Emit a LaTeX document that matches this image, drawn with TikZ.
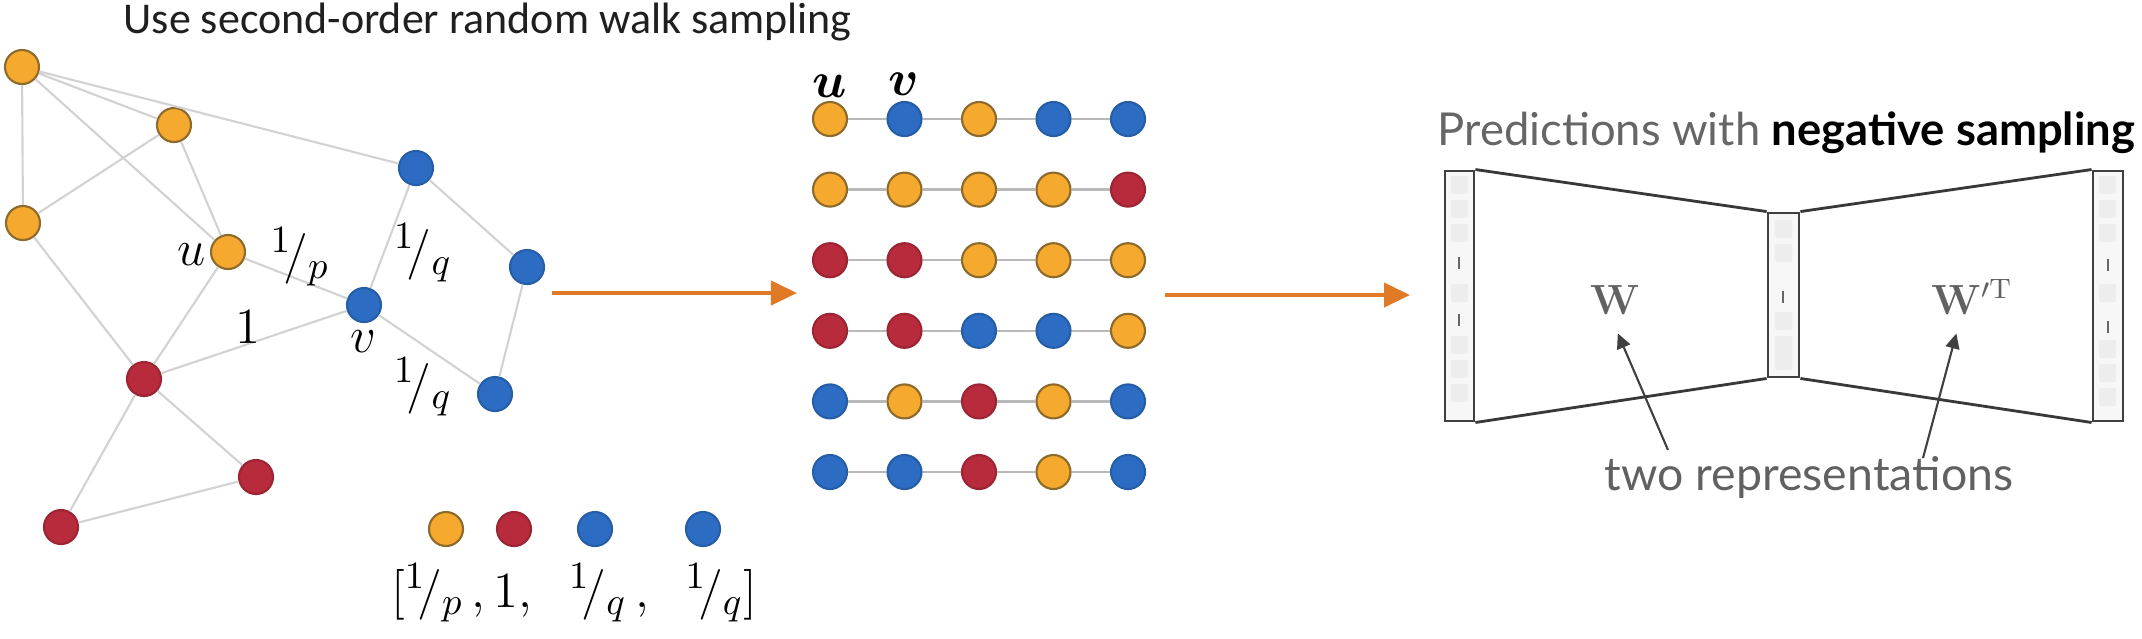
\documentclass[tikz,border=0pt]{standalone}
\usepackage{amsmath,amssymb}
\usepackage[no-math]{fontspec}
\setmainfont{Carlito}
\newfontfamily\latofont{Lato}
\usepackage{tikz}
\usetikzlibrary{arrows.meta,calc}
\definecolor{walkyellow}{HTML}{F5A92E}
\definecolor{walkrim}{HTML}{8C6A2C}
\definecolor{walkblue}{HTML}{2C6DC3}
\definecolor{walkred}{HTML}{B72B3D}
\definecolor{floworange}{HTML}{E07A26}
\newcommand{\onefrac}[1]{{}^{1}\!/_{#1}}

\begin{document}
\begin{tikzpicture}[
  x=0.01cm, y=-0.01cm,
  vertex/.style={circle,minimum size=3.4mm,inner sep=0pt,line width=0.6pt},
  wy/.style={vertex,fill=walkyellow,draw=walkrim},
  wb/.style={vertex,fill=walkblue,draw=walkblue!85!black},
  wr/.style={vertex,fill=walkred,draw=walkred!85!black},
  edge/.style={draw=gray!35,line width=0.6pt},
  walkedge/.style={draw=gray!55,line width=0.7pt},
  wlabel/.style={font=\fontsize{15.5}{18}\selectfont,inner sep=0pt},
  flow/.style={-{Triangle[length=2.6mm,width=2.4mm]},draw=floworange,line width=1.2pt},
  layer/.style={draw=black!75,fill=gray!6,line width=0.8pt,minimum width=2.9mm,inner sep=0pt},
  cell/.style={fill=gray!14,rounded corners=0.6pt},
  pointer/.style={-{Triangle[length=1.5mm,width=1.4mm]},draw=black!75,line width=0.6pt},
  wire/.style={draw=black!78,line width=0.8pt}
]
\useasboundingbox (0,0) rectangle (2142,638);

\node[anchor=base west,font=\fontsize{12.5}{15}\selectfont,text=black!88,inner sep=0pt]
  (ttl) at (123,33) {Use second-order random walk sampling};

% graph
\node[wy] (y1) at (22,67) {};
\node[wy] (y2) at (174,125) {};
\node[wy] (y3) at (23,223) {};
\node[wy] (u)  at (228,252) {};
\node[wb] (b1) at (416,168) {};
\node[wb] (b2) at (527,267) {};
\node[wb] (v)  at (364,305) {};
\node[wb] (b3) at (495,394) {};
\node[wr] (r1) at (144,379) {};
\node[wr] (r2) at (256,477) {};
\node[wr] (r3) at (61,527) {};

\draw[edge] (y1)--(y2) (y1)--(b1) (y1)--(y3) (y1)--(u) (y2)--(y3) (y2)--(u)
  (y3)--(r1) (u)--(v) (u)--(r1) (r1)--(v) (v)--(b1) (v)--(b3)
  (b1)--(b2) (b2)--(b3) (r1)--(r2) (r1)--(r3) (r2)--(r3);

\node[wlabel] (lu)  at (192,255) {$u$};
\node[wlabel] (lv)  at (363,342) {$v$};
\node[wlabel] (lp)  at (300,257) {$\onefrac{p}$};
\node[wlabel] (lq1) at (423,253) {$\onefrac{q}$};
\node[wlabel] (l1)  at (248,327) {$1$};
\node[wlabel] (lq2) at (423,387) {$\onefrac{q}$};

% transition weights
\node[wy] (ky)  at (446,529) {};
\node[wr] (kr)  at (514,529) {};
\node[wb] (kb1) at (595,529) {};
\node[wb] (kb2) at (703,529) {};
\node[wlabel] (kt) at (574,593)
  {$[\onefrac{p}\,,1,\;\;\onefrac{q}\,,\;\;\onefrac{q}]$};

% sampled walks
\foreach \cl [count=\i] in {{wy,wb,wy,wb,wb},{wy,wy,wy,wy,wr},{wr,wr,wy,wy,wy},
                            {wr,wr,wb,wb,wy},{wb,wy,wr,wy,wb},{wb,wb,wr,wy,wb}}
  \foreach \c [count=\j] in \cl
    \node[\c] (g\i-\j) at ({830+74.5*(\j-1)},{119+70.6*(\i-1)}) {};
\foreach \i in {1,...,6}
  \draw[walkedge] (g\i-1) -- (g\i-2) (g\i-2) -- (g\i-3) (g\i-3) -- (g\i-4) (g\i-4) -- (g\i-5);
\node[wlabel,font=\fontsize{14}{16}\selectfont] (gu) at (830,86) {$\boldsymbol{u}$};
\node[wlabel,font=\fontsize{14}{16}\selectfont] (gv) at (904,84) {$\boldsymbol{v}$};

\coordinate (f1s) at (552,293);
\coordinate (f1e) at (797,293);
\coordinate (f2s) at (1165,295);
\coordinate (f2e) at (1410,295);
\draw[flow] (f1s) -- (f1e);
\draw[flow] (f2s) -- (f2e);

% skip-gram
\node[anchor=base west,font=\latofont\fontsize{12.9}{15}\selectfont,inner sep=0pt,text=black!60]
  (ptl) at (1437,145) {Predictions with \textbf{\color{black}negative sampling}};

\node[layer,minimum height=2.5cm] (inl) at (1459.5,296) {};
\node[layer,minimum height=1.64cm,minimum width=3.1mm] (hid) at (1783.5,295) {};
\node[layer,minimum height=2.5cm,minimum width=3mm] (outl) at (2108,296) {};
\draw[wire] (inl.north east) -- (hid.north west);
\draw[wire] (inl.south east) -- (hid.south west);
\draw[wire] (hid.north east) -- (outl.north west);
\draw[wire] (hid.south east) -- (outl.south west);

\foreach \yy in {176,200,224,284,336,360,384} \fill[cell] (1451,\yy) rectangle +(17,18);
\foreach \yy in {220,244,312,336,352} \fill[cell] (1775,\yy) rectangle +(17,18);
\foreach \yy in {176,200,224,284,340,364,388} \fill[cell] (2099,\yy) rectangle +(17,18);
\foreach \yy in {263,320} \draw[black!60,line width=0.5pt] (1459,\yy-6) -- (1459,\yy+6);
\foreach \yy in {297} \draw[black!60,line width=0.5pt] (1783,\yy-6) -- (1783,\yy+6);
\foreach \yy in {265,327} \draw[black!60,line width=0.5pt] (2108,\yy-6) -- (2108,\yy+6);

\node[font=\fontsize{12}{14}\selectfont,text=black!62] (wl) at (1615,300) {$\mathbf{W}$};
\node[font=\fontsize{12}{14}\selectfont,text=black!62] (wp) at (1972,297) {$\mathbf{W}'^{\mathrm{T}}$};
\node[anchor=base,font=\latofont\fontsize{13.2}{15}\selectfont,text=black!62,inner sep=0pt]
  (rep) at (1809,490) {two representations};
\coordinate (p1) at (1668,450);
\coordinate (p2) at (1923,458);
\draw[pointer,shorten >=2pt] (p1) -- (wl.south);
\draw[pointer,shorten >=2pt] (p2) -- (wp.-115);
\end{tikzpicture}
\end{document}
